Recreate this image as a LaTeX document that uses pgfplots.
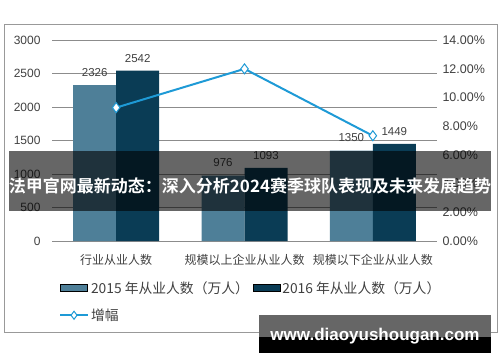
\documentclass[border=0pt]{standalone}
\usepackage{fontspec}
\setmainfont{Liberation Sans}
\newfontfamily\cjk{Noto Sans CJK SC}
\newfontfamily\cjkb{Noto Sans CJK SC Bold}
\usepackage{pgfplots}
\pgfplotsset{compat=1.18}
\definecolor{cA}{HTML}{4E7F98}
\definecolor{cB}{HTML}{0A3C55}
\definecolor{cL}{HTML}{1E9AD6}
\definecolor{txt}{HTML}{404040}
\definecolor{gridc}{HTML}{8C8C8C}
\definecolor{framec}{HTML}{999999}
\pgfplotsset{
  mylineleg/.style={legend image code/.code={\draw[##1, mark repeat=2, mark phase=2, mark size=4pt] plot coordinates {(0pt,0pt) (14pt,0pt) (28pt,0pt)};}},
  myboxleg/.style={legend image code/.code={\fill[##1] (0pt,-3.5pt) rectangle (27pt,3.5pt);}},
}
\begin{document}
\begin{tikzpicture}[x=1pt,y=1pt]
\useasboundingbox (0,0) rectangle (500,362);
\draw[color=framec, line width=1pt] (4.5,30) rectangle (497.5,337);
\begin{axis}[
  at={(52pt,121pt)}, anchor=south west, scale only axis,
  width=385pt, height=201pt,
  ymin=0, ymax=3000, ytick={0,500,...,3000},
  xmin=-0.5, xmax=2.5, xtick={0,1,2},
  xticklabels={行业从业人数,规模以上企业从业人数,规模以下企业从业人数},
  axis line style={draw=none},
  major tick length=0pt,
  ymajorgrids, grid style={gridc, line width=0.8pt},
  /pgf/number format/assume math mode=true,
  /pgf/number format/1000 sep={},
  yticklabel style={font=\fontsize{12}{12}\selectfont, color=txt, xshift=-8pt},
  xticklabel style={font=\cjk\fontsize{12}{12}\selectfont, color=txt, yshift=-10pt},
  ybar=0pt, bar width=43pt,
  nodes near coords,
  nodes near coords style={font=\fontsize{11.5}{11.5}\selectfont, color=txt, yshift=5pt},
]
\addplot[fill=cA, draw=none] coordinates {(0,2326) (1,976) (2,1350)};
\addplot[fill=cB, draw=none] coordinates {(0,2542) (1,1093) (2,1449)};
\end{axis}
\begin{axis}[
  at={(52pt,121pt)}, anchor=south west, scale only axis,
  width=385pt, height=201pt,
  ymin=0, ymax=14, ytick={0,2,...,14},
  xmin=-0.5, xmax=2.5, 
  axis x line=none,
  axis y line*=right,
  y axis line style={draw=none},
  major tick length=0pt,
  /pgf/number format/assume math mode=true,
  yticklabel={\pgfmathprintnumber[fixed,fixed zerofill,precision=2]{\tick}\%},
  yticklabel style={font=\fontsize{12.5}{12.5}\selectfont, color=txt, xshift=2pt},
  legend columns=2,
  legend cell align=left,
  legend style={at={(0.01,-0.18)}, anchor=north west, draw=none, fill=none,
    font=\cjk\fontsize{13.8}{13.8}\selectfont, text=txt,
    /tikz/every even column/.append style={column sep=2pt},
    row sep=10pt},
]
\addlegendimage{myboxleg, fill=cA}
\addlegendentry{2015 年从业人数（万人）}
\addlegendimage{myboxleg, fill=cB}
\addlegendentry{2016 年从业人数（万人）}
\addplot[color=cL, line width=2pt, mark=diamond*, mark size=5pt,
  mark options={fill=white, draw=cL, line width=1pt}, mylineleg]
  coordinates {(0,9.29) (1,11.99) (2,7.33)};
\addlegendentry{增幅}
\end{axis}
\fill[black, opacity=0.6] (9,151) rectangle (491,211);
\node[text=white, inner sep=0pt] at (250,176) {\cjkb\fontsize{17}{17}\selectfont 法甲官网最新动态：深入分析2024赛季球队表现及未来发展趋势};
\fill[color=black!60] (259,25) rectangle (491,47);
\fill[black] (259,9) rectangle (491,25);
\node[text=white, inner sep=0pt] at (375,26) {\bfseries\fontsize{17}{17}\selectfont www.diaoyushougan.com};
\end{tikzpicture}
\end{document}
